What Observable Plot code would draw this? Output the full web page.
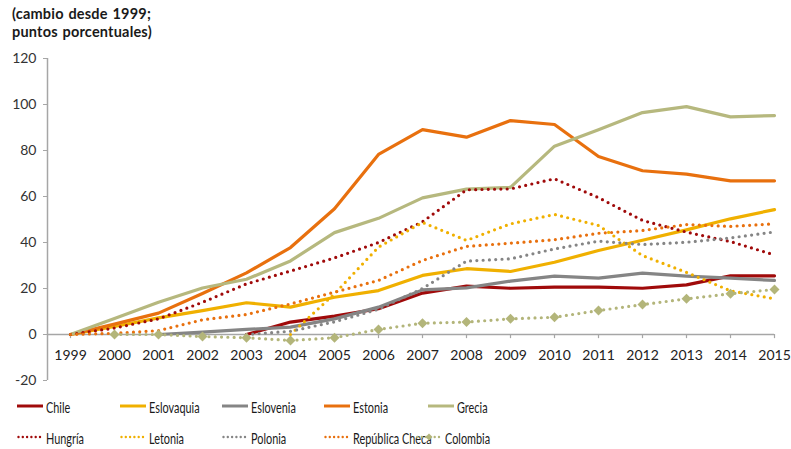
<!DOCTYPE html>
<html>
<head>
<meta charset="utf-8">
<script src="https://cdn.jsdelivr.net/npm/d3@7"></script>
<script src="https://cdn.jsdelivr.net/npm/@observablehq/plot@0.6"></script>
<style>
  html, body { margin: 0; padding: 0; background: #fff; }
  #wrap { position: relative; width: 791px; height: 449px; font-family: Lato, "Open Sans", sans-serif; overflow: hidden; }
  #title { position: absolute; left: 12px; top: 5px; font-weight: bold; font-size: 14.5px; line-height: 18px; color: #1a1a1a; letter-spacing: 0.2px; word-spacing: 1px; }
  #chart { position: absolute; left: 0; top: 0; }
  .leg { position: absolute; display: flex; align-items: center; color: #1a1a1a; white-space: nowrap; }
  .leg svg { margin-right: 2px; flex: none; }
  .leg span { display: inline-block; font-size: 16px; transform: scaleX(0.68); transform-origin: left center; }
</style>
</head>
<body>
<div id="wrap">
  <div id="chart"></div>
  <div id="title">(cambio desde 1999;<br>puntos porcentuales)</div>
  <div id="legend"></div>
</div>
<script>
const years = [1999,2000,2001,2002,2003,2004,2005,2006,2007,2008,2009,2010,2011,2012,2013,2014,2015];
const yTicks = [-20,0,20,40,60,80,100,120];

const chile      = [null,null,null,null,0,5.4,8,11.2,18,21,20.1,20.6,20.6,20.1,21.6,25.5,25.5];
const eslovaquia = [0,3.5,7.2,10.4,13.8,11.9,16.2,19.1,25.7,28.6,27.4,31.4,36.5,41,45.5,50.3,54.3];
const eslovenia  = [null,null,0,1,2.2,3.2,6.8,11.9,19.4,20.3,23.2,25.4,24.5,26.7,25.4,24.5,23.5];
const estonia    = [0,4.5,9.3,17.8,26.8,37.8,54.7,78.3,89.1,85.8,93,91.3,77.4,71.2,69.7,66.8,66.8];
const grecia     = [0,7,14,20.2,24,32,44.3,50.5,59.4,63.2,64,81.9,89,96.5,99.1,94.6,95.2];
const hungria    = [0,2.8,6.8,14,22,27.6,33.3,40,49,62.9,63.3,67.7,59.5,49.6,44.5,40.4,34.6];
const letonia    = [null,null,null,null,null,0,17.7,38,48.7,40.9,48.1,52.2,47.4,34.3,27,19,15.5];
const polonia    = [null,null,null,null,0,1.4,5.5,11,20,31.9,32.9,37.2,40.6,39.1,40.1,42,44.6];
const repCheca   = [0,0.5,1.7,6.4,8.7,13.3,18.4,23.5,32.2,38.3,39.7,41.2,44,45.2,47.8,47,48.1];
const colombia   = [null,0,0,-0.9,-1.4,-2.6,-1.4,2.2,4.9,5.4,6.8,7.5,10.4,13,15.5,17.7,19.6];

const seriesNames = ["Chile","Eslovaquia","Eslovenia","Estonia","Grecia","Hungría","Letonia","Polonia","República Checa","Colombia"];
const seriesValues = [chile,eslovaquia,eslovenia,estonia,grecia,hungria,letonia,polonia,repCheca,colombia];
const seriesColors = ["#a00a0a","#f0b000","#858585","#e8700e","#b6b87e","#a00a0a","#f0b000","#858585","#e8700e","#b3b57a"];
const seriesDotted = [false,false,false,false,false,true,true,true,true,true];

const tables = seriesNames.map((name, i) =>
  years.map((year, j) => ({year, value: seriesValues[i][j], name}))
       .filter(d => d.value !== null));

const xMin = 1999 - 23/44;

const marks = [
  Plot.ruleX([xMin], {y1: -20, y2: 120, stroke: "#a6a6a6", strokeWidth: 1.5}),
  Plot.axisY({ticks: yTicks, label: null, tickSize: 4, tickPadding: 7, stroke: "#a6a6a6", fill: "#333", fontSize: 14, tickFormat: d => String(d)}),
  Plot.ruleY([0], {x1: xMin, x2: 2015, stroke: "#a6a6a6", strokeWidth: 1.5}),
  Plot.ruleX(years, {x: d => d, y1: 0, y2: -1.8, stroke: "#a6a6a6", strokeWidth: 1.2}),
  Plot.text(years, {x: d => d, y: 0, dy: 21, text: d => String(d), fill: "#222", fontSize: 14})
];

tables.forEach((t, i) => {
  if (seriesDotted[i]) {
    marks.push(Plot.line(t, {x: "year", y: "value", stroke: seriesColors[i], strokeWidth: 3.2,
      strokeDasharray: "0 6.3", strokeLinecap: "round", curve: "linear"}));
  } else {
    marks.push(Plot.line(t, {x: "year", y: "value", stroke: seriesColors[i], strokeWidth: 3.2, curve: "linear"}));
  }
});
marks.push(Plot.dot(tables[9], {x: "year", y: "value", symbol: "diamond2", r: 4.5, fill: seriesColors[9], stroke: "none"}));

const chart = Plot.plot({
  width: 791,
  height: 390,
  marginTop: 58,
  marginBottom: 10,
  marginLeft: 47,
  marginRight: 17,
  x: {type: "linear", domain: [xMin, 2015], axis: null},
  y: {domain: [-20, 120], axis: null},
  style: {fontFamily: "Lato, 'Open Sans', sans-serif", background: "transparent", overflow: "visible"},
  marks
});
document.getElementById("chart").appendChild(chart);

// legend
const legPos = [[17,406],[120,406],[222,406],[324,406],[428,406],[17,437],[120,437],[222,437],[324,437],[416,437]];
const legend = document.getElementById("legend");
seriesNames.forEach((name, i) => {
  const div = document.createElement("div");
  div.className = "leg";
  div.style.left = legPos[i][0] + "px";
  div.style.top = (legPos[i][1] - 10) + "px";
  div.style.height = "20px";
  const dash = seriesDotted[i] ? `stroke-dasharray="0 4.3" stroke-linecap="round"` : "";
  const diamond = i === 9 ? `<path d="M13,2.5 L16.5,6 L13,9.5 L9.5,6 Z" fill="${seriesColors[i]}"/>` : "";
  div.innerHTML = `<svg width="27" height="12"><line x1="${seriesDotted[i] ? 1.5 : 0}" x2="26" y1="6" y2="6" stroke="${seriesColors[i]}" stroke-width="${seriesDotted[i] ? 2.4 : 3}" ${dash}/>${diamond}</svg><span>${name}</span>`;
  legend.appendChild(div);
});
</script>
</body>
</html>
